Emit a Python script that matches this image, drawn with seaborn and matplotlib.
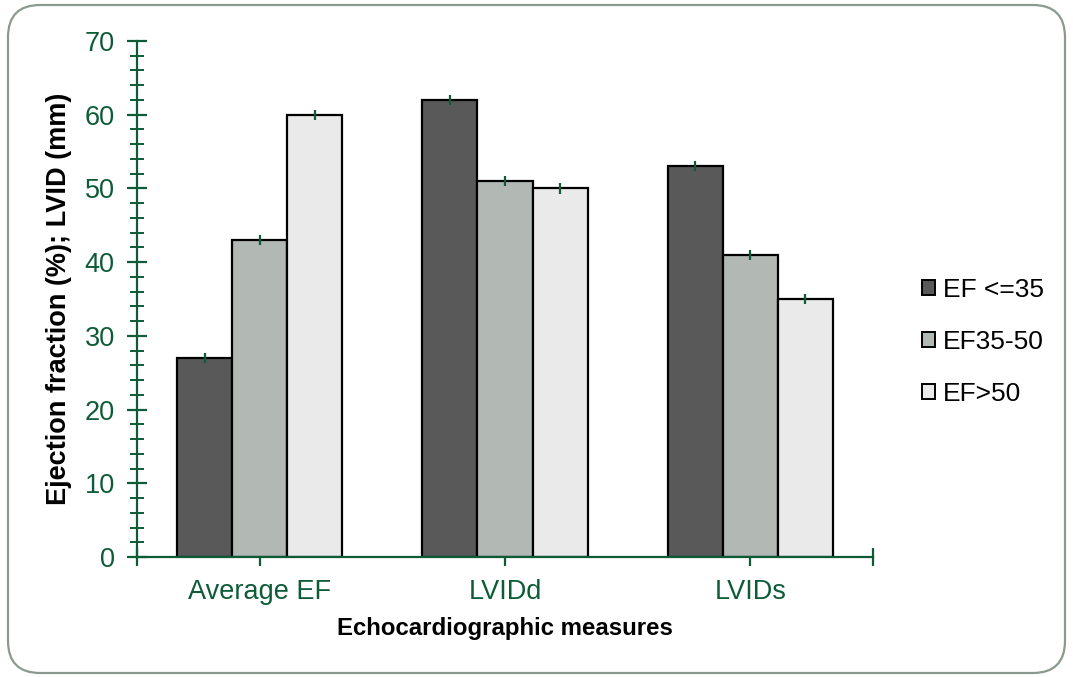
import matplotlib
matplotlib.use("Agg")
import matplotlib.pyplot as plt
import seaborn as sns
import pandas as pd
import numpy as np
from matplotlib.patches import FancyBboxPatch, Patch
from matplotlib.ticker import MultipleLocator, FixedLocator

categories = ["Average EF", "LVIDd", "LVIDs"]
groups = ["EF <=35", "EF35-50", "EF>50"]
ef_low = [27, 62, 53]
ef_mid = [43, 51, 41]
ef_high = [60, 50, 35]
err = [0.7, 0.7, 0.7]
y_ticks = [0, 10, 20, 30, 40, 50, 60, 70]

sns.set_style("white")
plt.rcParams['font.family'] = ['Liberation Sans', 'DejaVu Sans']
plt.rcParams['text.color'] = 'black'

green = "#0E5C37"
colors = ["#595959", "#B1B9B4", "#EAEAEA"]

rows = []
for g, vals in zip(groups, [ef_low, ef_mid, ef_high]):
    for c, v in zip(categories, vals):
        rows.append({"measure": c, "group": g, "value": v})
df = pd.DataFrame(rows)

fig = plt.figure(figsize=(10.73, 6.77), dpi=100)
ax = fig.add_axes([137/1073, 1-557/677, (873-137)/1073, (557-41)/677])

sns.barplot(data=df, x="measure", y="value", hue="group", order=categories,
            hue_order=groups, palette=colors, width=0.673, gap=0,
            edgecolor="black", linewidth=1.6, errorbar=None, legend=False, ax=ax)

# small error bars at top of each bar
for p in ax.patches:
    h = p.get_height()
    if np.isnan(h):
        continue
    ax.errorbar(p.get_x() + p.get_width()/2, h, yerr=err[0], color=green,
                lw=1.6, capsize=0, zorder=5)

ax.set_xlim(-0.5, 2.5)
ax.set_ylim(0, 70)
ax.yaxis.set_major_locator(FixedLocator(y_ticks))
ax.yaxis.set_minor_locator(MultipleLocator(2))
ax.set_xticks([-0.5, 0, 1, 2, 2.5])
ax.set_xticklabels(["", categories[0], categories[1], categories[2], ""])

for s in ["top", "right"]:
    ax.spines[s].set_visible(False)
for s in ["left", "bottom"]:
    ax.spines[s].set_color(green)
    ax.spines[s].set_linewidth(1.6)

ax.tick_params(axis="y", which="major", direction="inout", length=14, width=1.6,
               color=green, labelcolor=green, labelsize=19.5, pad=9, left=True)
ax.tick_params(axis="y", which="minor", direction="inout", length=10, width=1.4,
               color=green, left=True)
ax.tick_params(axis="x", which="major", direction="inout", length=13, width=1.6,
               color=green, labelcolor=green, labelsize=19.5, pad=9, bottom=True)

ax.set_xlabel("Echocardiographic measures", fontsize=17.3, fontweight="bold",
              color="black", labelpad=9)
ax.set_ylabel("Ejection fraction (%); LVID (mm)", fontsize=19.5, fontweight="bold",
              color="black", labelpad=9)

handles = [Patch(facecolor=c, edgecolor="black", linewidth=1.4) for c in colors]
fig.legend(handles, groups, loc="center left", bbox_to_anchor=(0.837, 0.495),
           frameon=False, fontsize=19, handlelength=0.5, handleheight=0.5,
           handletextpad=0.3, labelspacing=1.05, labelcolor="black")

frame = FancyBboxPatch((8/1073, 4/677), (1065-8)/1073, (672-4)/677,
                       boxstyle="round,pad=0,rounding_size=0.03",
                       transform=fig.transFigure, facecolor="none",
                       edgecolor="#8A9A8E", linewidth=1.6, zorder=-1,
                       mutation_aspect=1073/677)
fig.patches.append(frame)

fig.savefig("out.png", dpi=100)
